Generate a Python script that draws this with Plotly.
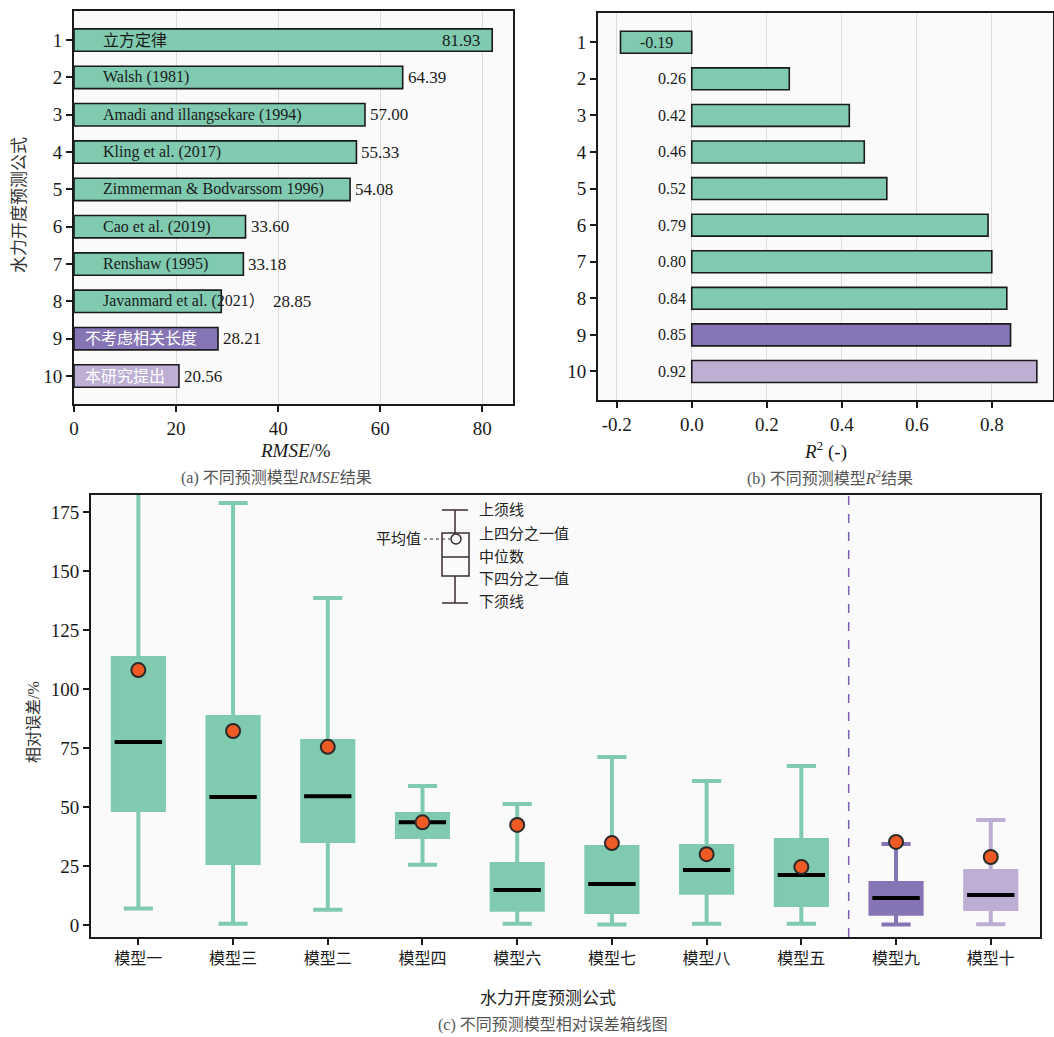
import plotly.graph_objects as go

# ---------------- data ----------------
ranks = [1, 2, 3, 4, 5, 6, 7, 8, 9, 10]
model_names = ["立方定律", "Walsh (1981)", "Amadi and illangsekare (1994)", "Kling et al. (2017)",
               "Zimmerman & Bodvarssom 1996)", "Cao et al. (2019)", "Renshaw (1995)",
               "Javanmard et al. (2021）", "不考虑相关长度", "本研究提出"]
rmse_vals = [81.93, 64.39, 57.00, 55.33, 54.08, 33.60, 33.18, 28.85, 28.21, 20.56]
r2_vals = [-0.19, 0.26, 0.42, 0.46, 0.52, 0.79, 0.80, 0.84, 0.85, 0.92]
groups = ["ref"] * 8 + ["nocorr", "ours"]

box_names = ["模型一", "模型三", "模型二", "模型四", "模型六", "模型七", "模型八", "模型五", "模型九", "模型十"]
box_groups = ["ref"] * 8 + ["nocorr", "ours"]
box_lower = [7.0, 0.5, 6.5, 25.5, 0.5, 0.2, 0.5, 0.5, 0.2, 0.3]
box_q1 = [48.7, 26.3, 35.6, 37.3, 6.4, 5.5, 13.6, 8.5, 4.7, 6.8]
box_median = [77.5, 54.2, 54.5, 43.5, 14.8, 17.4, 23.3, 21.2, 11.4, 12.7]
box_q3 = [113.1, 88.1, 78.0, 47.0, 25.8, 33.0, 33.5, 36.0, 17.8, 22.9]
box_upper = [230.0, 178.8, 138.6, 58.9, 51.3, 71.2, 61.0, 67.4, 34.3, 44.5]
box_mean = [108.0, 82.2, 75.5, 43.5, 42.4, 34.7, 30.0, 24.6, 35.2, 28.8]

# ---------------- style ----------------
COL = {"ref": "#80cab0", "nocorr": "#8575b5", "ours": "#bdaed4"}
TXT = {"ref": "#1a1a1a", "nocorr": "#ffffff", "ours": "#ffffff"}
FONT = "Liberation Serif, Noto Sans CJK SC, serif"
W, H = 1054, 1037
AX = "#1a1a1a"
GRID = "#dcdcdc"


def px(x):
    return x / W


def py(y):
    return 1 - y / H


fig = go.Figure()

# ---- panel (a) ----
fig.add_trace(go.Bar(
    x=rmse_vals, y=ranks, orientation="h", width=0.6,
    marker=dict(color=[COL[g] for g in groups], line=dict(color=AX, width=1.6)),
    xaxis="x", yaxis="y", showlegend=False, hoverinfo="skip"))

annotations = []
for i, (r, v, name, g) in enumerate(zip(ranks, rmse_vals, model_names, groups)):
    lx = 5.3 if g == "ref" else 1.8
    annotations.append(dict(x=lx, y=r, xref="x", yref="y", text=name, showarrow=False,
                            xanchor="left", yanchor="middle",
                            font=dict(family=FONT, size=16, color=TXT[g])))
    if i == 0:
        annotations.append(dict(x=v, y=r, xref="x", yref="y", text=f"{v:.2f}", showarrow=False,
                                xanchor="right", xshift=-10, font=dict(family=FONT, size=17, color="#1a1a1a")))
    else:
        shift = 50 if name.startswith("Javanmard") else 3
        annotations.append(dict(x=v, y=r, xref="x", yref="y", text=f"{v:.2f}", showarrow=False,
                                xanchor="left", xshift=shift, font=dict(family=FONT, size=17, color="#1a1a1a")))

# ---- panel (b) ----
fig.add_trace(go.Bar(
    x=r2_vals, y=ranks, orientation="h", width=0.6,
    marker=dict(color=[COL[g] for g in groups], line=dict(color=AX, width=1.6)),
    xaxis="x2", yaxis="y2", showlegend=False, hoverinfo="skip"))
for r, v in zip(ranks, r2_vals):
    if v < 0:
        annotations.append(dict(x=v / 2, y=r, xref="x2", yref="y2", text=f"{v:.2f}", showarrow=False,
                                xanchor="center", font=dict(family=FONT, size=16, color="#1a1a1a")))
    else:
        annotations.append(dict(x=0, y=r, xref="x2", yref="y2", text=f"{v:.2f}", showarrow=False,
                                xanchor="right", xshift=-4, font=dict(family=FONT, size=16, color="#1a1a1a")))

# ---- panel (c) ----
half = 0.25
for i, g in enumerate(box_groups):
    fig.add_trace(go.Box(
        x=[i], q1=[box_q1[i]], median=[box_median[i]], q3=[box_q3[i]],
        lowerfence=[box_lower[i]], upperfence=[box_upper[i]],
        width=0.54, whiskerwidth=0.57, fillcolor=COL[g],
        line=dict(color=COL[g], width=4), boxpoints=False,
        xaxis="x3", yaxis="y3", showlegend=False, hoverinfo="skip"))
med_x, med_y = [], []
for i, m in enumerate(box_median):
    med_x += [i - half, i + half, None]
    med_y += [m, m, None]
fig.add_trace(go.Scatter(x=med_x, y=med_y, mode="lines", line=dict(color="#000000", width=4),
                         xaxis="x3", yaxis="y3", showlegend=False, hoverinfo="skip"))
fig.add_trace(go.Scatter(x=list(range(len(box_mean))), y=box_mean, mode="markers",
                         marker=dict(color="#ee5a24", size=14, line=dict(color="#2a2a2a", width=2)),
                         xaxis="x3", yaxis="y3", showlegend=False, hoverinfo="skip"))

shapes = [dict(type="line", xref="x3", yref="y3 domain", x0=7.5, x1=7.5, y0=0, y1=1,
               line=dict(color="#7a5cb0", width=1.5, dash="dash"))]

# legend inset (pixel geometry -> x3/y3 domain)
def dx(p):
    return (p - 91) / (1040 - 91)


def dy(p):
    return (937 - p) / (937 - 495)


LC = "#3b2b2b"
lg = dict(xref="x3 domain", yref="y3 domain", line=dict(color=LC, width=1.5))
shapes += [
    dict(type="line", x0=dx(442), x1=dx(468), y0=dy(510), y1=dy(510), **lg),
    dict(type="line", x0=dx(455), x1=dx(455), y0=dy(510), y1=dy(533), **lg),
    dict(type="rect", x0=dx(442), x1=dx(469), y0=dy(533), y1=dy(576), **lg),
    dict(type="line", x0=dx(442), x1=dx(469), y0=dy(557), y1=dy(557), **lg),
    dict(type="line", x0=dx(455), x1=dx(455), y0=dy(576), y1=dy(603), **lg),
    dict(type="line", x0=dx(442), x1=dx(468), y0=dy(603), y1=dy(603), **lg),
    dict(type="circle", x0=dx(451), x1=dx(461), y0=dy(534), y1=dy(544), **lg),
    dict(type="line", x0=dx(424), x1=dx(450), y0=dy(539), y1=dy(539), xref="x3 domain", yref="y3 domain",
         line=dict(color=LC, width=1, dash="dot")),
]
for label, yy in [("上须线", 510), ("上四分之一值", 534), ("中位数", 557), ("下四分之一值", 579), ("下须线", 602)]:
    annotations.append(dict(x=dx(477), y=dy(yy), xref="x3 domain", yref="y3 domain", text=label,
                            showarrow=False, xanchor="left", yanchor="middle",
                            font=dict(family=FONT, size=15, color="#222")))
annotations.append(dict(x=dx(423), y=dy(539), xref="x3 domain", yref="y3 domain", text="平均值",
                        showarrow=False, xanchor="right", yanchor="middle",
                        font=dict(family=FONT, size=15, color="#222")))

# titles & captions
def pa(text, x, y, size, color="#1a1a1a", angle=0):
    annotations.append(dict(x=px(x), y=py(y), xref="paper", yref="paper", text=text, showarrow=False,
                            xanchor="center", yanchor="middle", textangle=angle,
                            font=dict(family=FONT, size=size, color=color)))


pa("水力开度预测公式", 19, 205, 17, "#333", -90)
pa("<i>RMSE</i>/%", 295, 450, 19)
pa("(a) 不同预测模型<i>RMSE</i>结果", 276, 478, 16, "#555")
pa("<i>R</i><sup>2</sup> (-)", 825, 450, 19)
pa("(b) 不同预测模型<i>R</i><sup>2</sup>结果", 830, 478, 16, "#555")
pa("相对误差/%", 33, 722, 16, "#333", -90)
pa("水力开度预测公式", 548, 998, 17, "#222")
pa("(c) 不同预测模型相对误差箱线图", 553, 1025, 16, "#555")

axis_common = dict(showline=True, linecolor=AX, linewidth=2, ticks="outside", ticklen=6, tickwidth=1.6,
                   tickcolor=AX, tickfont=dict(family=FONT, size=19, color="#1a1a1a"), zeroline=False,
                   automargin=False)

fig.update_layout(
    width=W, height=H, margin=dict(l=0, r=0, t=0, b=0, autoexpand=False),
    paper_bgcolor="#ffffff", plot_bgcolor="#fafafa",
    xaxis=dict(domain=[px(74), px(513)], anchor="y", range=[0, 86], tickvals=[0, 20, 40, 60, 80],
               showgrid=True, gridcolor=GRID, gridwidth=1, mirror=True, **axis_common),
    yaxis=dict(domain=[py(404), py(11)], anchor="x", range=[10.75, 0.22], tickvals=ranks,
               showgrid=False, mirror=True, **axis_common),
    xaxis2=dict(domain=[px(598), 0.999], anchor="y2", range=[-0.25, 0.963],
                tickvals=[-0.2, 0.0, 0.2, 0.4, 0.6, 0.8], ticktext=["-0.2", "0.0", "0.2", "0.4", "0.6", "0.8"],
                showgrid=True, gridcolor=GRID, gridwidth=1, mirror=True, **axis_common),
    yaxis2=dict(domain=[py(400), py(13)], anchor="x2", range=[10.78, 0.2], tickvals=ranks,
                showgrid=False, mirror=True, **axis_common),
    xaxis3=dict(domain=[px(91), px(1040)], anchor="y3", range=[-0.5, 9.52], tickvals=list(range(10)),
                ticktext=box_names, showgrid=False, mirror=True,
                **{**axis_common, "tickfont": dict(family=FONT, size=16, color="#1a1a1a")}),
    yaxis3=dict(domain=[py(937), py(495)], anchor="x3", range=[-5.1, 182.2],
                tickvals=[0, 25, 50, 75, 100, 125, 150, 175], showgrid=False, mirror=True, **axis_common),
    annotations=annotations, shapes=shapes,
)

fig.write_html("out.html", config={"displayModeBar": False},
               post_script="document.body.style.margin='0';document.body.style.overflow='hidden';")
